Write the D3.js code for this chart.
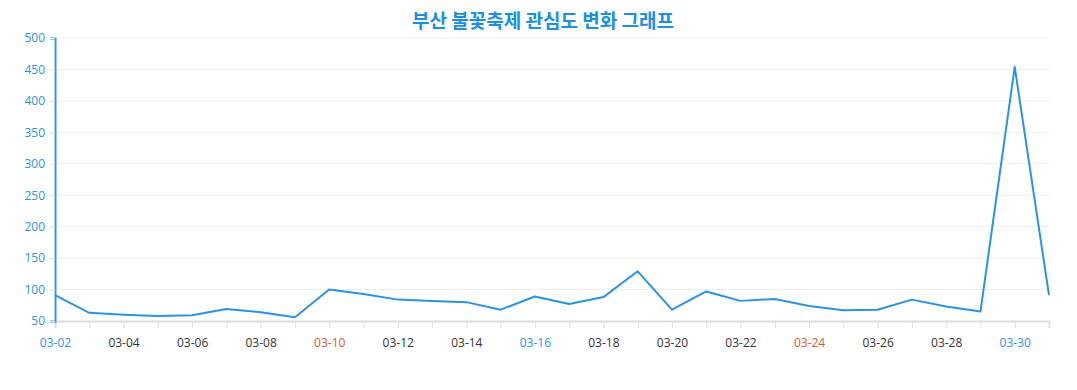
<!DOCTYPE html>
<html>
<head>
<meta charset="utf-8">
<script src="https://cdn.jsdelivr.net/npm/d3@7"></script>
<style>
    body { margin: 0; background: #fff; }
    .title { font-family: "Noto Sans CJK KR", "Noto Sans", sans-serif; font-weight: 700; }
    .tick text { font-family: "Open Sans", "Noto Sans", sans-serif; }
</style>
</head>
<body>
<div id="chart"></div>
<script>
// chart data
var days = ["03-02","03-03","03-04","03-05","03-06","03-07","03-08","03-09","03-10","03-11",
    "03-12","03-13","03-14","03-15","03-16","03-17","03-18","03-19","03-20","03-21",
    "03-22","03-23","03-24","03-25","03-26","03-27","03-28","03-29","03-30","03-31"];
var interest = [91, 63, 60, 58, 59, 69, 64, 56, 100, 93,
    84, 82, 80, 68, 89, 77, 88, 129, 68, 97,
    82, 85, 74, 67, 68, 84, 73, 65, 454, 91];
var yTicks = [50, 100, 150, 200, 250, 300, 350, 400, 450, 500];
var blueDays = ["03-02", "03-16", "03-30"];
var redDays = ["03-10", "03-24"];

var width = 1077, height = 390;
var margin = { top: 38, right: 28, bottom: 69, left: 55 };

var svg = d3.select("#chart").append("svg")
    .attr("width", width)
    .attr("height", height);

var x = d3.scalePoint()
    .domain(days)
    .range([margin.left, width - margin.right]);

var y = d3.scaleLinear()
    .domain([50, 500])
    .range([height - margin.bottom, margin.top]);

// title
svg.append("text")
    .attr("class", "title")
    .attr("x", 543)
    .attr("y", 28)
    .attr("text-anchor", "middle")
    .attr("font-size", 19)
    .attr("fill", "#1a8fe3")
    .text("부산 불꽃축제 관심도 변화 그래프");

// grid
svg.append("g")
    .selectAll("line")
    .data(yTicks.slice(1))
    .enter().append("line")
    .attr("x1", margin.left)
    .attr("x2", width - margin.right)
    .attr("y1", function(d) { return y(d); })
    .attr("y2", function(d) { return y(d); })
    .attr("stroke", "#eeeeee")
    .attr("stroke-width", 1);

// x axis
var xAxis = svg.append("g")
    .attr("transform", "translate(0," + (height - margin.bottom) + ")")
    .call(d3.axisBottom(x)
        .tickSize(7)
        .tickFormat(function(d, i) { return i % 2 == 0 ? d : ""; }));
xAxis.select(".domain").attr("stroke", "#dddddd").attr("stroke-width", 2);
xAxis.selectAll(".tick line").attr("stroke", "#dddddd");
xAxis.selectAll(".tick text")
    .attr("font-size", 12)
    .attr("dy", "1.3em")
    .attr("fill", function(d) {
        if (blueDays.indexOf(d) >= 0) return "#2a95dc";
        if (redDays.indexOf(d) >= 0) return "#e0533a";
        return "#333333";
    });

// y axis
var yAxis = svg.append("g")
    .attr("transform", "translate(" + margin.left + ",0)")
    .call(d3.axisLeft(y).tickValues(yTicks).tickSize(5).tickPadding(5));
yAxis.select(".domain").attr("stroke", "#3a9ad9").attr("stroke-width", 2);
yAxis.selectAll(".tick line").attr("stroke", "#cfe3f3");
yAxis.selectAll(".tick text")
    .attr("font-size", 12)
    .attr("fill", "#2a95dc");

// line
var line = d3.line()
    .x(function(d, i) { return x(days[i]); })
    .y(function(d) { return y(d); });

svg.append("path")
    .datum(interest)
    .attr("d", line)
    .attr("fill", "none")
    .attr("stroke", "#2b93e3")
    .attr("stroke-width", 2)
    .attr("stroke-linejoin", "round");
</script>
</body>
</html>
